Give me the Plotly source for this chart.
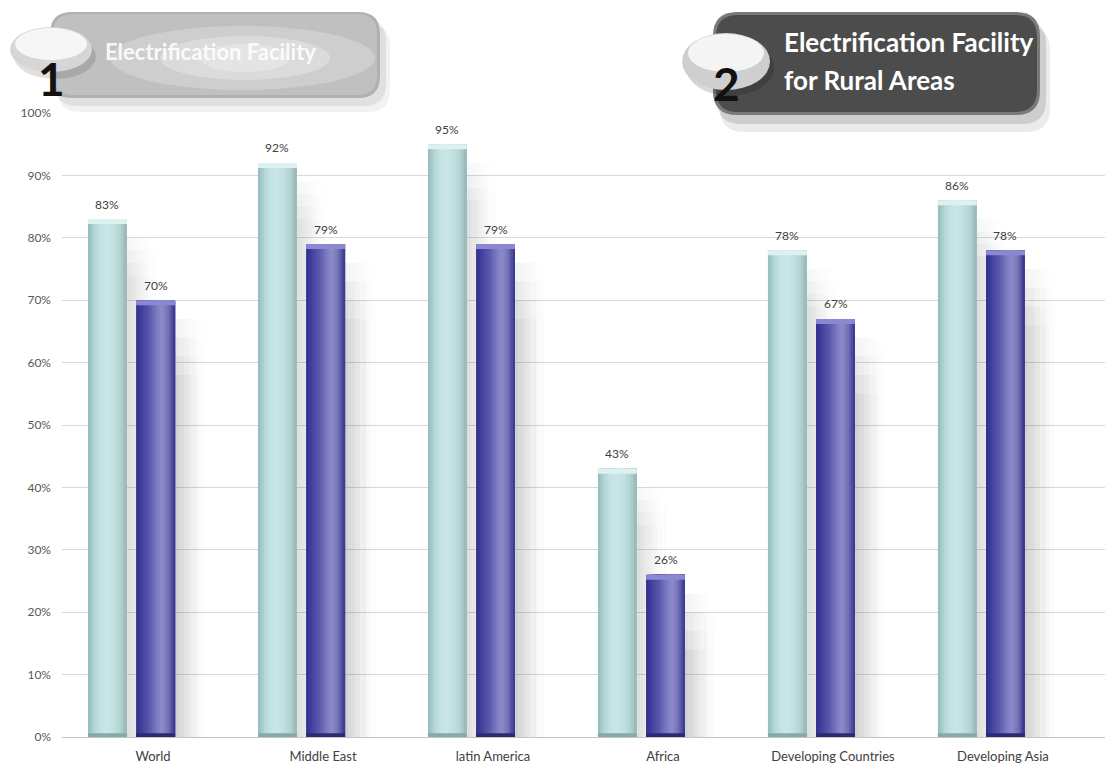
import plotly.graph_objects as go

# ---- data -------------------------------------------------------------
categories = ["World", "Middle East", "latin America", "Africa",
              "Developing Countries", "Developing Asia"]
total_access = [83, 92, 95, 43, 78, 86]   # Electrification Facility
rural_access = [70, 79, 79, 26, 67, 78]   # Electrification Facility for Rural Areas
y_ticks = list(range(0, 101, 10))
y_tick_text = [f"{t}%" for t in y_ticks]

# ---- geometry / style ---------------------------------------------------
W, H = 1105, 769
PL, PR, PT, PB = 62, 1105, 113, 737      # plot area in pixels
X_RANGE = [-0.412, 5.724]
PX_PER_UNIT = 170
FONT = "Lato"

LIGHT_LEFT, BAR_W = -0.259, 0.229
DARK_LEFT = 0.024
N_STRIPS = 20

# key colours across the width of each column (left -> right)
light_keys = ["#98bfbf", "#b6d8d8", "#c6e4e4", "#c9e6e6", "#c2e0e0",
              "#b4d4d4", "#9cbcbc"]
dark_keys = ["#343290", "#4745a0", "#5a58ac", "#7876be", "#8e8cca",
             "#7573b8", "#3e3c92"]


def hex_rgb(h):
    h = h.lstrip("#")
    return [int(h[i:i + 2], 16) for i in (0, 2, 4)]


def ramp(keys, n):
    cols = [hex_rgb(k) for k in keys]
    out = []
    for j in range(n):
        t = j / (n - 1) * (len(cols) - 1)
        a = min(int(t), len(cols) - 2)
        f = t - a
        c = [round(cols[a][m] * (1 - f) + cols[a + 1][m] * f) for m in range(3)]
        out.append(f"rgb({c[0]},{c[1]},{c[2]})")
    return out


xs = list(range(len(categories)))
fig = go.Figure()


def add_strips(values, left, colors):
    n = len(colors)
    step = BAR_W / n
    for k, c in enumerate(colors):
        # each strip runs to the right edge, so later strips cover earlier ones
        fig.add_trace(go.Bar(
            x=xs, y=values, offset=left + k * step, width=BAR_W - k * step,
            marker=dict(color=c, line=dict(width=0)),
            showlegend=False, hoverinfo="skip"))


def add_shadow(values, left, alpha, drops, width_px, n=10):
    """Translucent drop shadow: layers stack darker downwards, strips fade rightwards."""
    sw = width_px / PX_PER_UNIT / n
    for drop in drops:
        tops = [max(v - drop, 0) for v in values]
        for k in range(n):
            a = alpha * (1 - k / n) ** 1.4
            fig.add_trace(go.Bar(
                x=xs, y=tops, offset=left + k * sw, width=sw,
                marker=dict(color=f"rgba(70,70,70,{a:.3f})", line=dict(width=0)),
                showlegend=False, hoverinfo="skip"))


def add_caps(values, left, top_color, bottom_color):
    cap = 0.8
    fig.add_trace(go.Bar(
        x=xs, y=[cap] * len(values), base=[v - cap for v in values],
        offset=left, width=BAR_W,
        marker=dict(color=top_color, line=dict(width=0)),
        showlegend=False, hoverinfo="skip"))
    fig.add_trace(go.Bar(
        x=xs, y=[0.6] * len(values), base=[0] * len(values),
        offset=left, width=BAR_W,
        marker=dict(color=bottom_color, line=dict(width=0)),
        showlegend=False, hoverinfo="skip"))


# soft shadows behind the columns
add_shadow(total_access, LIGHT_LEFT + BAR_W, 0.045, [3, 5, 7, 9], width_px=30)
add_shadow(rural_access, DARK_LEFT + BAR_W, 0.065, [3, 6, 9, 12], width_px=30)

# columns with a horizontal shading
add_strips(total_access, LIGHT_LEFT, ramp(light_keys, N_STRIPS))
add_caps(total_access, LIGHT_LEFT, "#def1f1", "#86a9a9")
add_strips(rural_access, DARK_LEFT, ramp(dark_keys, N_STRIPS))
add_caps(rural_access, DARK_LEFT, "#8a88d2", "#2c2a72")

# value labels above each column
annotations = []
for i in xs:
    for vals, left in ((total_access, LIGHT_LEFT), (rural_access, DARK_LEFT)):
        annotations.append(dict(
            x=i + left + BAR_W / 2, y=vals[i], xref="x", yref="y",
            text=f"{vals[i]}%", showarrow=False, yshift=15,
            font=dict(family=FONT, size=12, color="#404040")))


# ---- title buttons (pixel helpers) --------------------------------------
def px(x):
    return (x - PL) / (PR - PL)


def py(y):
    return (PB - y) / (PB - PT)


def rrect(x0, y0, x1, y1, r):
    pts = [
        f"M {px(x0 + r)},{py(y0)}",
        f"L {px(x1 - r)},{py(y0)}",
        f"Q {px(x1)},{py(y0)} {px(x1)},{py(y0 + r)}",
        f"L {px(x1)},{py(y1 - r)}",
        f"Q {px(x1)},{py(y1)} {px(x1 - r)},{py(y1)}",
        f"L {px(x0 + r)},{py(y1)}",
        f"Q {px(x0)},{py(y1)} {px(x0)},{py(y1 - r)}",
        f"L {px(x0)},{py(y0 + r)}",
        f"Q {px(x0)},{py(y0)} {px(x0 + r)},{py(y0)}",
        "Z",
    ]
    return " ".join(pts)


shapes = []


def path_shape(x0, y0, x1, y1, r, fill):
    shapes.append(dict(type="path", xref="paper", yref="paper",
                       path=rrect(x0, y0, x1, y1, r),
                       fillcolor=fill, line=dict(width=0), layer="above"))


def ellipse(x0, y0, x1, y1, fill):
    shapes.append(dict(type="circle", xref="paper", yref="paper",
                       x0=px(x0), x1=px(x1), y0=py(y1), y1=py(y0),
                       fillcolor=fill, line=dict(width=0), layer="above"))


# button 1 (light, glossy)
path_shape(58, 24, 390, 112, 22, "rgba(0,0,0,0.05)")
path_shape(55, 19, 386, 106, 22, "rgba(0,0,0,0.07)")
path_shape(50, 12, 380, 98, 22, "#b0b0b0")
path_shape(53, 14, 377, 95, 20, "#c0c0c0")
ellipse(110, 26, 375, 90, "rgba(255,255,255,0.22)")
ellipse(160, 36, 330, 80, "rgba(255,255,255,0.28)")
ellipse(200, 44, 290, 72, "rgba(255,255,255,0.25)")
ellipse(14, 34, 96, 79, "rgba(0,0,0,0.12)")
ellipse(10, 27, 92, 72, "#d6d6d6")
ellipse(15, 28, 87, 60, "#f6f6f6")

# button 2 (dark)
path_shape(720, 26, 1050, 132, 24, "rgba(0,0,0,0.08)")
path_shape(717, 20, 1046, 124, 24, "rgba(0,0,0,0.12)")
path_shape(713, 12, 1040, 115, 24, "#7a7a7a")
path_shape(716, 15, 1037, 112, 22, "#4c4c4c")
ellipse(686, 39, 774, 96, "rgba(0,0,0,0.15)")
ellipse(682, 33, 770, 90, "#cfcfcf")
ellipse(688, 34, 764, 72, "#f4f4f4")


def label(x, y, text, size, color, xanchor="center"):
    return dict(xref="paper", yref="paper", x=px(x), y=py(y), text=text,
                xanchor=xanchor, yanchor="middle", showarrow=False,
                font=dict(family=FONT, size=size, color=color))


annotations += [
    label(51, 79, "<b>1</b>", 46, "#111111"),
    label(103, 52, "<b>Electrification Facility</b>", 22,
          "rgba(255,255,255,0.9)", "left"),
    label(726, 84, "<b>2</b>", 46, "#111111"),
    label(782, 42, "<b>Electrification Facility</b>", 26, "#ffffff", "left"),
    label(782, 80, "<b>for Rural Areas</b>", 26, "#ffffff", "left"),
]

fig.update_layout(
    width=W, height=H,
    margin=dict(l=PL, r=W - PR, t=PT, b=H - PB),
    barmode="overlay",
    paper_bgcolor="white", plot_bgcolor="white",
    showlegend=False,
    font=dict(family=FONT, color="#404040"),
    shapes=shapes,
    annotations=annotations,
    xaxis=dict(range=X_RANGE, tickvals=xs, ticktext=categories,
               ticklabelshift=21, ticklabelstandoff=10,
               showgrid=False, zeroline=False, showline=False, ticks="",
               tickfont=dict(family=FONT, size=13, color="#404040"),
               fixedrange=True),
    yaxis=dict(range=[0, 100], tickvals=y_ticks, ticktext=y_tick_text,
               showgrid=True, gridcolor="#d9d9d9", gridwidth=1,
               zeroline=True, zerolinecolor="#c4c4c4", zerolinewidth=1,
               showline=False, ticks="", ticklabelstandoff=10,
               tickfont=dict(family=FONT, size=12, color="#595959"),
               fixedrange=True),
)

fig.write_html("out.html")
